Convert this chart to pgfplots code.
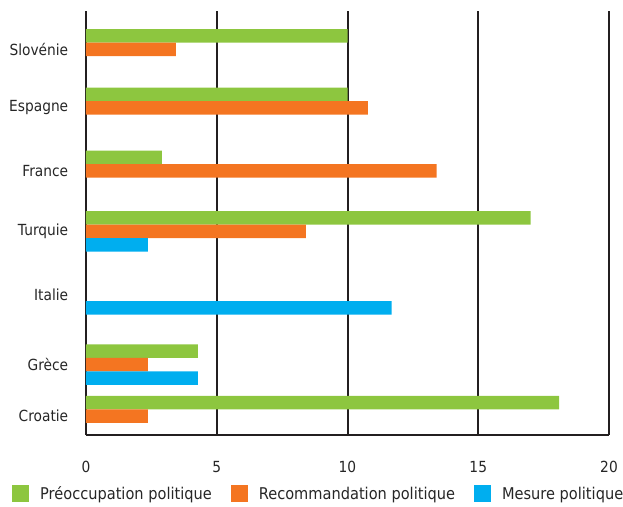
\documentclass[border=0pt]{standalone}
\usepackage{fontspec}
\setmainfont{DejaVu Sans}[FakeStretch=0.9]
\usepackage{pgfplots}
\pgfplotsset{compat=1.18}
\definecolor{cgreen}{HTML}{8DC63F}
\definecolor{corange}{HTML}{F47521}
\definecolor{cblue}{HTML}{00AEEF}
\definecolor{cgrid}{HTML}{231F20}
\begin{document}
\begin{tikzpicture}
\useasboundingbox (0,0) rectangle (623pt,506pt);
\begin{axis}[
  at={(86pt,71pt)}, anchor=south west,
  scale only axis, width=523pt, height=424pt,
  xbar, bar width=13.5,
  xmin=0, xmax=20, ymin=-435, ymax=-11,
  xtick={0,5,10,15,20},
  ytick={-416,-364.5,-294.5,-231.5,-171,-108,-49.5},
  yticklabels={Croatie,Grèce,Italie,Turquie,France,Espagne,Slovénie},
  xmajorgrids, major grid style={cgrid, line width=2pt},
  axis x line*=bottom, axis y line*=left,
  x axis line style={cgrid, line width=2pt, -},
  y axis line style={draw=none},
  tick style={draw=none},
  /pgf/number format/assume math mode=true,
  ticklabel style={font=\fontsize{15.3}{18}\selectfont, text=black!85},
  xticklabel style={yshift=-23pt},
  yticklabel style={xshift=-10pt},
  legend columns=3,
  legend style={at={(-0.1415,-0.139)}, anchor=west, draw=none, fill=none, inner sep=0pt,
    font=\fontsize{16.2}{19}\selectfont, text=black!85,
    /tikz/every odd column/.append style={column sep=9pt},
    /tikz/every even column/.append style={column sep=17pt}},
  legend image code/.code={\fill[#1] (0pt,-8.5pt) rectangle (17pt,8.5pt);},
]
\addplot[fill=cgreen, draw=none, bar shift=13.5] coordinates {
  (10,-49.5) (10,-108) (2.9,-171) (17,-231.5) (4.28,-364.5) (18.09,-416)};
\addlegendentry{Préoccupation politique}
\addplot[fill=corange, draw=none, bar shift=0] coordinates {
  (3.44,-49.5) (10.78,-108) (13.41,-171) (8.41,-231.5) (2.37,-364.5) (2.37,-416)};
\addlegendentry{Recommandation politique}
\addplot[fill=cblue, draw=none, bar shift=-13.5] coordinates {
  (2.37,-231.5) (11.69,-294.5) (4.28,-364.5)};
\addlegendentry{Mesure politique}
\end{axis}
\end{tikzpicture}
\end{document}
